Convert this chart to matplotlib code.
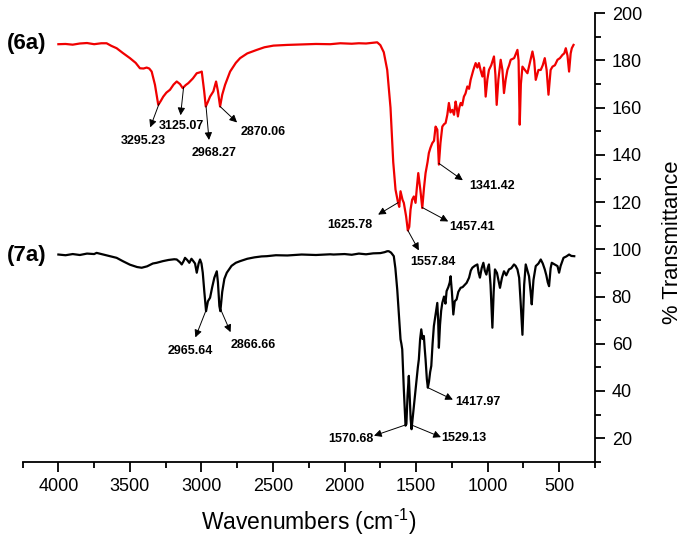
import numpy as np
import matplotlib
matplotlib.use('Agg')
import matplotlib.pyplot as plt
from matplotlib.ticker import MultipleLocator

plt.rcParams['font.family'] = ['Liberation Sans', 'DejaVu Sans']
plt.rcParams['mathtext.fontset'] = 'custom'
plt.rcParams['mathtext.rm'] = 'Liberation Sans'
plt.rcParams['mathtext.default'] = 'regular'

# spectrum (6a), red, offset upward
red_wn = [4000, 3950, 3900, 3850, 3800, 3750, 3700, 3663, 3630, 3593,
          3550, 3500, 3460, 3430, 3405, 3383, 3365, 3348, 3325, 3302,
          3285, 3267, 3245, 3220, 3195, 3173, 3150, 3131, 3110, 3092,
          3060, 3033, 3010, 2998, 2990, 2981, 2970, 2955, 2940, 2917,
          2898, 2885, 2870, 2855, 2835, 2800, 2760, 2730, 2680, 2613,
          2560, 2497, 2400, 2300, 2200, 2100, 2030, 1950, 1900, 1850,
          1800, 1772, 1750, 1726, 1702, 1679, 1660, 1644, 1628, 1618,
          1609, 1595, 1586, 1570, 1558, 1548, 1539, 1528, 1516, 1504,
          1495, 1485, 1470, 1457, 1445, 1434, 1420, 1411, 1400, 1387,
          1375, 1364, 1352, 1341, 1330, 1317, 1305, 1294, 1282, 1271,
          1260, 1247, 1235, 1224, 1216, 1208, 1198, 1189, 1178, 1166,
          1155, 1142, 1130, 1119, 1100, 1084, 1072, 1061, 1050, 1037,
          1025, 1014, 1002, 991, 975, 956, 946, 937, 925, 909,
          897, 886, 874, 862, 850, 839, 815, 792, 784, 776,
          768, 757, 740, 722, 705, 687, 675, 664, 645, 629,
          615, 601, 588, 575, 560, 547, 530, 512, 495, 477,
          465, 454, 442, 431, 420, 412, 400]
red_t = [186.9, 187.0, 186.7, 187.2, 187.4, 186.9, 187.3, 187.3, 186.2, 185.2,
         183.2, 181.0, 179.0, 176.7, 176.6, 177.0, 176.6, 175.3, 169.7, 161.2,
         162.8, 164.7, 166.4, 167.6, 169.8, 171.1, 170.0, 168.3, 169.6, 170.4,
         172.4, 174.6, 175.0, 175.3, 171.5, 166.9, 160.5, 162.5, 164.7, 166.9,
         171.1, 167.0, 160.5, 165.5, 169.7, 175.3, 179.0, 181.0, 183.0, 184.5,
         185.6, 186.3, 186.6, 186.8, 187.0, 186.9, 187.3, 187.1, 187.3, 187.2,
         187.5, 187.7, 186.5, 183.5, 176.0, 160.0, 137.0, 125.3, 120.3, 118.0,
         124.6, 121.0, 119.7, 114.0, 108.0, 109.5, 116.8, 121.0, 122.4, 119.7,
         126.0, 132.3, 125.0, 117.5, 126.0, 132.3, 137.0, 140.8, 143.0, 145.0,
         146.0, 152.0, 150.7, 135.9, 145.0, 152.0, 153.0, 153.5, 157.0, 162.0,
         158.0, 159.1, 157.0, 162.6, 160.0, 156.3, 160.0, 162.0, 161.0, 164.7,
         166.0, 169.0, 168.0, 171.8, 176.0, 178.9, 177.0, 178.9, 176.0, 173.2,
         177.0, 164.7, 172.0, 176.0, 178.0, 181.7, 174.0, 161.2, 172.0, 180.3,
         176.0, 166.2, 172.0, 176.0, 178.0, 180.3, 181.0, 184.5, 180.0, 152.8,
         170.0, 177.4, 176.0, 174.6, 179.0, 183.8, 180.0, 171.8, 176.0, 176.0,
         178.0, 181.0, 176.0, 165.5, 176.0, 177.4, 178.0, 180.3, 181.0, 182.4,
         183.0, 185.2, 182.0, 175.3, 183.0, 185.2, 186.6]

# spectrum (7a), black
black_wn = [4000, 3950, 3900, 3850, 3800, 3750, 3733, 3700, 3650, 3593,
            3550, 3500, 3450, 3418, 3380, 3340, 3313, 3270, 3230, 3190,
            3173, 3150, 3138, 3125, 3115, 3100, 3085, 3070, 3057, 3045,
            3033, 3020, 3010, 3000, 2991, 2980, 2968, 2955, 2940, 2925,
            2910, 2893, 2885, 2875, 2868, 2855, 2840, 2823, 2790, 2760,
            2730, 2680, 2630, 2580, 2543, 2480, 2400, 2300, 2200, 2100,
            2077, 2000, 1950, 1900, 1850, 1800, 1750, 1720, 1702, 1691,
            1675, 1656, 1645, 1632, 1620, 1609, 1603, 1597, 1586, 1574,
            1568, 1560, 1551, 1545, 1538, 1532, 1525, 1515, 1504, 1495,
            1488, 1481, 1472, 1464, 1455, 1446, 1440, 1434, 1425, 1418,
            1410, 1402, 1394, 1385, 1376, 1365, 1352, 1346, 1341, 1333,
            1325, 1317, 1305, 1295, 1287, 1275, 1265, 1259, 1250, 1240,
            1230, 1217, 1205, 1189, 1175, 1160, 1147, 1130, 1118, 1107,
            1090, 1072, 1063, 1054, 1042, 1030, 1020, 1009, 1000, 991,
            980, 967, 958, 949, 935, 925, 914, 900, 886, 870,
            851, 835, 816, 805, 792, 780, 770, 757, 745, 734,
            722, 711, 700, 692, 680, 664, 645, 629, 615, 601,
            590, 580, 571, 560, 552, 530, 512, 501, 490, 470,
            450, 431, 415, 395]
black_t = [97.8, 97.5, 98.0, 97.6, 98.2, 98.0, 98.5, 98.0, 97.2, 96.4,
           95.0, 93.5, 92.5, 92.2, 92.8, 94.0, 94.3, 95.0, 95.5, 95.8,
           95.7, 94.5, 93.6, 95.0, 96.4, 95.5, 94.3, 96.0, 95.0, 94.0,
           90.1, 94.0, 95.7, 94.0, 90.1, 82.0, 73.8, 78.0, 79.5, 84.0,
           88.0, 90.7, 86.0, 76.0, 73.8, 82.0, 87.5, 90.1, 93.0, 94.3,
           95.0, 96.0, 96.6, 97.0, 97.1, 97.5, 97.4, 97.8, 97.6, 97.9,
           97.8, 98.0, 97.7, 98.2, 97.9, 98.3, 98.4, 98.8, 99.2, 99.2,
           98.6, 97.1, 92.0, 83.0, 72.0, 61.9, 60.0, 57.6, 40.8, 25.3,
           26.0, 38.0, 46.4, 38.0, 28.0, 23.8, 28.0, 34.0, 40.8, 46.0,
           50.0, 53.4, 62.0, 66.1, 62.0, 63.3, 58.0, 53.4, 45.0, 41.4,
           44.0, 48.0, 50.6, 60.0, 67.5, 72.0, 77.3, 70.0, 58.3, 68.0,
           74.0, 77.3, 80.0, 77.0, 82.3, 84.0, 86.0, 88.6, 82.0, 72.4,
           78.0, 78.8, 82.0, 83.7, 84.0, 85.0, 85.8, 88.0, 91.0, 92.2,
           93.0, 93.6, 90.0, 88.0, 92.0, 94.3, 91.0, 89.3, 92.0, 93.6,
           85.0, 66.8, 82.0, 91.5, 90.0, 87.0, 83.7, 88.0, 90.7, 89.0,
           91.5, 92.0, 93.6, 93.0, 91.5, 88.0, 78.0, 63.8, 85.0, 93.6,
           91.0, 88.6, 82.0, 76.7, 87.0, 92.9, 94.0, 95.7, 94.0, 91.5,
           89.0, 86.0, 84.4, 92.0, 94.3, 93.5, 92.9, 90.1, 93.0, 96.4,
           97.0, 97.8, 97.2, 97.1]

# peak labels
red_peaks = [3295.23, 3125.07, 2968.27, 2870.06, 1625.78, 1557.84, 1457.41, 1341.42]
black_peaks = [2965.64, 2866.66, 1570.68, 1529.13, 1417.97]

# (arrow end dx, dy, text dx, dy) in pixels from the peak, dy downwards
red_offsets = [(-9, 24, -16, 38), (-3, 28, -2, 39), (3, 34, 8, 47), (17, 16, 43, 26),
               (-20, 12, -48, 22), (11, 20, 25, 32), (26, 14, 50, 20), (24, 17, 53, 23)]
black_offsets = [(-11, 28, -16, 42), (10, 23, 33, 36), (-32, 11, -55, 14),
                 (29, 12, 52, 13), (25, 12, 50, 14)]

fig = plt.figure(figsize=(6.85, 5.42), dpi=100)
ax = fig.add_axes([0.033, 0.148, 0.8356, 0.8275])

ax.plot(red_wn, red_t, color='#f00000', lw=1.6)
ax.plot(black_wn, black_t, color='black', lw=1.6)


def label_peaks(wn, t, peaks, offsets):
    for pk, (ax_, ay_, tx, ty) in zip(peaks, offsets):
        py = np.interp(pk, wn[::-1], t[::-1])
        ax.annotate('', xy=(pk, py), xytext=(ax_, -ay_), textcoords='offset pixels',
                    arrowprops=dict(arrowstyle='<|-', color='black', lw=0.7,
                                    shrinkA=0, shrinkB=0, mutation_scale=11))
        ax.annotate(f'{pk:.2f}', xy=(pk, py), xytext=(tx, -ty), textcoords='offset pixels',
                    ha='center', va='center', fontsize=9, fontweight='bold')


label_peaks(red_wn, red_t, red_peaks, red_offsets)
label_peaks(black_wn, black_t, black_peaks, black_offsets)

ax.set_xlim(4250, 250)
ax.set_ylim(10, 200)
ax.xaxis.set_minor_locator(MultipleLocator(250))
ax.yaxis.set_major_locator(MultipleLocator(20))
ax.yaxis.set_minor_locator(MultipleLocator(10))
ax.set_xticks([4000, 3500, 3000, 2500, 2000, 1500, 1000, 500])
ax.yaxis.tick_right()

for s in ['left', 'top']:
    ax.spines[s].set_visible(False)
for s in ['right', 'bottom']:
    ax.spines[s].set_linewidth(1.3)

ax.tick_params(which='major', direction='out', length=7, width=1.3, labelsize=13, pad=5)
ax.tick_params(which='minor', direction='out', length=4, width=1.3)
ax.tick_params(axis='y', which='both', left=False, right=True)

ax.set_xlabel('Wavenumbers (cm$^{\\text{-}1}$)', fontsize=16.5, labelpad=8)
fig.text(672 / 685, 1 - 242 / 542, '% Transmittance', rotation=90,
         ha='center', va='center', fontsize=15.8)

fig.text(7 / 685, 1 - 44 / 542, '(6a)', fontsize=16, fontweight='bold', va='center')
fig.text(7 / 685, 1 - 256 / 542, '(7a)', fontsize=16, fontweight='bold', va='center')

fig.savefig('out.png', dpi=100)
